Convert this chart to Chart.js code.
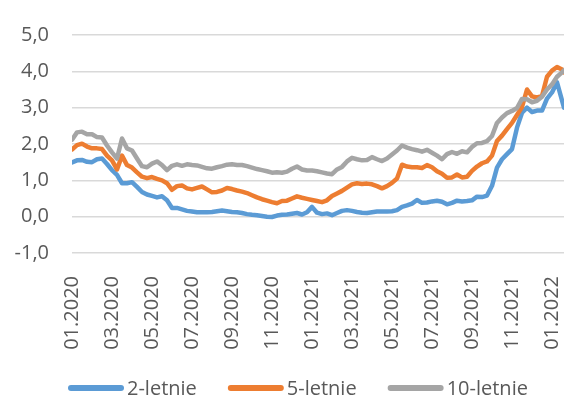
<!DOCTYPE html>
<html>
<head>
<meta charset="utf-8">
<script src="https://cdn.jsdelivr.net/npm/chart.js@4/dist/chart.umd.min.js"></script>
<style>
  html, body { margin: 0; padding: 0; background: #ffffff; }
  #chart { display: block; }
</style>
</head>
<body>
<canvas id="chart" width="564" height="396"></canvas>
<script>
// Position of each observation, in months counted from January 2020
const months = [
  0, 0.25, 0.5, 0.75, 1, 1.25, 1.5, 1.75, 2, 2.25,
  2.5, 2.75, 3, 3.25, 3.5, 3.75, 4, 4.25, 4.5, 4.75,
  5, 5.25, 5.5, 5.75, 6, 6.25, 6.5, 6.75, 7, 7.25,
  7.5, 7.75, 8, 8.25, 8.5, 8.75, 9, 9.25, 9.5, 9.75,
  10, 10.25, 10.5, 10.75, 11, 11.25, 11.5, 11.75, 12, 12.25,
  12.5, 12.75, 13, 13.25, 13.5, 13.75, 14, 14.25, 14.5, 14.75,
  15, 15.25, 15.5, 15.75, 16, 16.25, 16.5, 16.75, 17, 17.25,
  17.5, 17.75, 18, 18.25, 18.5, 18.75, 19, 19.25, 19.5, 19.75,
  20, 20.25, 20.5, 20.75, 21, 21.25, 21.5, 21.75, 22, 22.25,
  22.5, 22.75, 23, 23.25, 23.5, 23.75, 24, 24.25, 24.5, 24.6
];

// Yields of Polish treasury bonds (%)
const yield2y = [
  1.49, 1.55, 1.56, 1.51, 1.50, 1.58, 1.60, 1.45, 1.28, 1.15,
  0.92, 0.92, 0.95, 0.82, 0.68, 0.61, 0.57, 0.53, 0.56, 0.45,
  0.24, 0.24, 0.20, 0.16, 0.14, 0.12, 0.12, 0.12, 0.13, 0.15,
  0.17, 0.15, 0.13, 0.12, 0.10, 0.07, 0.05, 0.04, 0.02, 0.00,
  -0.01, 0.03, 0.05, 0.06, 0.08, 0.10, 0.06, 0.12, 0.27, 0.11,
  0.07, 0.09, 0.04, 0.10, 0.16, 0.18, 0.16, 0.13, 0.11, 0.10,
  0.12, 0.14, 0.14, 0.14, 0.15, 0.18, 0.27, 0.31, 0.36, 0.46,
  0.38, 0.39, 0.42, 0.44, 0.41, 0.34, 0.38, 0.44, 0.42, 0.43,
  0.45, 0.55, 0.54, 0.58, 0.85, 1.35, 1.58, 1.72, 1.86, 2.45,
  2.86, 3.00, 2.88, 2.92, 2.92, 3.25, 3.42, 3.70, 3.20, 3.00
];

const yield5y = [
  1.85, 1.97, 2.01, 1.93, 1.88, 1.88, 1.86, 1.68, 1.55, 1.30,
  1.68, 1.42, 1.35, 1.22, 1.10, 1.06, 1.09, 1.04, 1.00, 0.92,
  0.74, 0.84, 0.86, 0.78, 0.75, 0.79, 0.83, 0.75, 0.67, 0.68,
  0.72, 0.79, 0.76, 0.72, 0.69, 0.65, 0.59, 0.53, 0.48, 0.44,
  0.40, 0.37, 0.43, 0.44, 0.50, 0.56, 0.52, 0.49, 0.46, 0.43,
  0.40, 0.45, 0.57, 0.64, 0.71, 0.80, 0.89, 0.92, 0.90, 0.91,
  0.89, 0.84, 0.78, 0.84, 0.93, 1.05, 1.43, 1.38, 1.36, 1.36,
  1.34, 1.42, 1.36, 1.25, 1.18, 1.07, 1.08, 1.16, 1.08, 1.10,
  1.26, 1.38, 1.47, 1.52, 1.68, 2.08, 2.23, 2.41, 2.58, 2.80,
  3.02, 3.50, 3.31, 3.28, 3.32, 3.85, 4.02, 4.12, 4.05, 3.97
];

const yield10y = [
  2.12, 2.32, 2.34, 2.27, 2.27, 2.19, 2.18, 1.96, 1.77, 1.60,
  2.15, 1.88, 1.82, 1.60, 1.39, 1.36, 1.46, 1.52, 1.42, 1.28,
  1.40, 1.44, 1.40, 1.44, 1.42, 1.41, 1.37, 1.33, 1.32, 1.36,
  1.39, 1.43, 1.44, 1.42, 1.42, 1.39, 1.35, 1.31, 1.28, 1.25,
  1.21, 1.22, 1.21, 1.24, 1.32, 1.38, 1.30, 1.27, 1.27, 1.25,
  1.22, 1.19, 1.17, 1.30, 1.37, 1.52, 1.62, 1.58, 1.55, 1.56,
  1.64, 1.58, 1.53, 1.60, 1.71, 1.82, 1.96, 1.90, 1.86, 1.83,
  1.79, 1.84, 1.76, 1.68, 1.58, 1.72, 1.78, 1.73, 1.80, 1.77,
  1.92, 2.02, 2.03, 2.08, 2.22, 2.58, 2.73, 2.85, 2.91, 2.99,
  3.24, 3.23, 3.15, 3.19, 3.30, 3.50, 3.64, 3.85, 3.97, 4.03
];

const seriesNames = ['2-letnie', '5-letnie', '10-letnie'];
const seriesColors = ['#5B9BD5', '#ED7D31', '#A5A5A5'];

// Axis ticks: every second month, and the yield scale
const tickMonths = [0, 2, 4, 6, 8, 10, 12, 14, 16, 18, 20, 22, 24];
const tickLabels = ['01.2020', '03.2020', '05.2020', '07.2020', '09.2020', '11.2020',
                    '01.2021', '03.2021', '05.2021', '07.2021', '09.2021', '11.2021', '01.2022'];
const yTicks = [-1, 0, 1, 2, 3, 4, 5];

const FONT = "'Open Sans', sans-serif";
const FONT_SIZE = 20;
const TEXT_COLOR = '#595959';

Chart.defaults.font.family = FONT;
Chart.defaults.font.size = FONT_SIZE;
Chart.defaults.color = TEXT_COLOR;

function toPoints(values) {
  return values.map((v, i) => ({ x: months[i], y: v }));
}

// Legend drawn under the axis labels: a short rounded line followed by the name
const bottomLegend = {
  id: 'bottomLegend',
  afterDraw(chart) {
    const ctx = chart.ctx;
    const sets = chart.data.datasets;
    const lineLen = 56, textGap = 3, itemGap = 31;
    const startX = 68, lineY = 388, baseY = 395;
    ctx.save();
    ctx.font = FONT_SIZE + 'px ' + FONT;
    let x = startX;
    sets.forEach((d) => {
      ctx.strokeStyle = d.borderColor;
      ctx.lineWidth = 6;
      ctx.lineCap = 'round';
      ctx.beginPath();
      ctx.moveTo(x + 3, lineY);
      ctx.lineTo(x + lineLen - 3, lineY);
      ctx.stroke();
      ctx.fillStyle = TEXT_COLOR;
      ctx.textAlign = 'left';
      ctx.textBaseline = 'alphabetic';
      ctx.fillText(d.label, x + lineLen + textGap, baseY);
      x += lineLen + textGap + ctx.measureText(d.label).width + itemGap;
    });
    ctx.restore();
  }
};

const seriesValues = [yield2y, yield5y, yield10y];

new Chart(document.getElementById('chart'), {
  type: 'line',
  data: {
    datasets: seriesValues.map((vals, i) => ({
      label: seriesNames[i],
      data: toPoints(vals),
      borderColor: seriesColors[i],
      backgroundColor: seriesColors[i],
      borderWidth: 4.5,
      pointRadius: 0,
      tension: 0,
      borderJoinStyle: 'round',
      borderCapStyle: 'round',
      order: seriesValues.length - i
    }))
  },
  options: {
    responsive: false,
    animation: false,
    layout: { padding: { top: 23, right: 0, bottom: 33, left: 0 } },
    plugins: {
      legend: { display: false },
      tooltip: { enabled: false }
    },
    scales: {
      x: {
        type: 'linear',
        min: 0,
        max: 24.6,
        grid: { display: false },
        border: { display: false },
        afterBuildTicks(scale) {
          scale.ticks = tickMonths.map(v => ({ value: v }));
        },
        afterFit(scale) {
          scale.height = 110;
          scale.paddingLeft = 0;
          scale.paddingRight = 0;
        },
        ticks: {
          autoSkip: false,
          minRotation: 90,
          maxRotation: 90,
          padding: 15,
          color: TEXT_COLOR,
          callback(value) {
            const idx = tickMonths.indexOf(value);
            return idx >= 0 ? tickLabels[idx] : '';
          }
        }
      },
      y: {
        min: -1,
        max: 5,
        border: { display: false },
        grid: { color: '#D9D9D9', lineWidth: 1.5, drawTicks: false },
        afterBuildTicks(scale) {
          scale.ticks = yTicks.map(v => ({ value: v }));
        },
        afterFit(scale) {
          scale.width = 72;
        },
        ticks: {
          padding: 23,
          color: TEXT_COLOR,
          callback(value) {
            return value.toFixed(1).replace('.', ',');
          }
        }
      }
    }
  },
  plugins: [bottomLegend]
});
</script>
</body>
</html>
